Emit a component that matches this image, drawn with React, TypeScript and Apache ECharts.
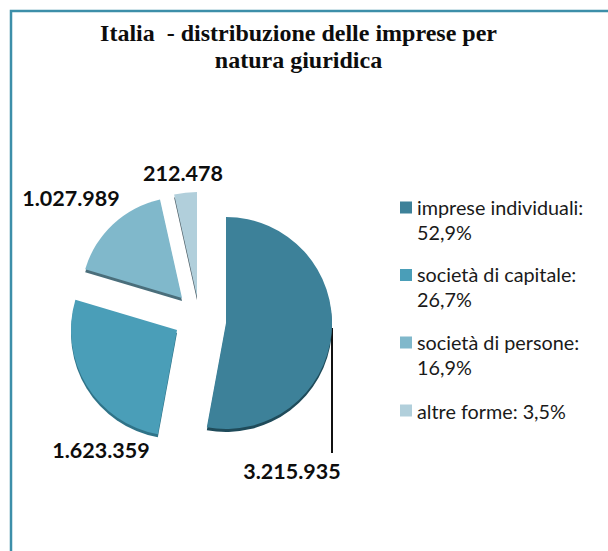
import React, { useEffect, useRef } from "react";
import * as echarts from "echarts";

const titleText = "Italia  - distribuzione delle imprese per\nnatura giuridica";
const categories = ["imprese individuali", "società di capitale", "società di persone", "altre forme"];
const values = [3215935, 1623359, 1027989, 212478];
const shares = ["52,9%", "26,7%", "16,9%", "3,5%"];

const colors = ["#3D8199", "#4A9EB8", "#80B8CB", "#B1CFDB"];
const rimColors = ["#1F4B5A", "#2F7388", "#4A6E7B", "#4A5A62"];
const centers = [[226, 323], [177, 330], [182, 298], [197, 297]];
const radii = [106, 106, 101, 105];
const labelPositions = [[292, 471], [101, 450], [71, 198], [183, 173]];
const RIM = 3;

const fmt = (v: number) => String(v).replace(/\B(?=(\d{3})+$)/g, ".");
const pieData = (active: number, palette: string[]) =>
  categories.map((name, i) => ({
    name,
    value: values[i],
    itemStyle: { color: i === active ? palette[i] : "transparent" },
    label: { show: false },
    labelLine: { show: false },
  }));

const twoLineIcon = "path://M0,6H13V19H0Z M0,0L0.01,0Z M0,50L0.01,50Z";

export default function App() {
  const ref = useRef<HTMLDivElement>(null);
  useEffect(() => {
    document.body.style.margin = "0";
    const chart = echarts.init(ref.current!, null, { renderer: "svg" });
    const series: any[] = [];
    categories.forEach((_, i) => {
      series.push({
        type: "pie",
        silent: true,
        radius: radii[i],
        center: [centers[i][0], centers[i][1] + RIM],
        startAngle: 90,
        clockwise: true,
        label: { show: false },
        labelLine: { show: false },
        data: pieData(i, rimColors),
      });
    });
    categories.forEach((_, i) => {
      const data: any[] = pieData(i, colors);
      data[i] = {
        ...data[i],
        label: {
          show: true,
          position: "outside",
          overflow: "none",
          formatter: fmt(values[i]),
          fontFamily: "Lato",
          fontWeight: "bold",
          fontSize: 21.5,
          color: "#0d0d0d",
        },
      };
      series.push({
        type: "pie",
        silent: true,
        radius: radii[i],
        center: centers[i],
        startAngle: 90,
        clockwise: true,
        labelLine: { show: false },
        labelLayout: {
          x: labelPositions[i][0],
          y: labelPositions[i][1],
          align: "center",
          verticalAlign: "middle",
          hideOverlap: false,
        },
        data,
      });
    });
    const legendText = {
      fontFamily: "Lato",
      fontSize: 19.8,
      color: "#1a1a1a",
      lineHeight: 25,
    };
    chart.setOption({
      animation: false,
      backgroundColor: "#ffffff",
      title: {
        text: titleText,
        left: 293.5,
        top: 14,
        textAlign: "center",
        textStyle: {
          fontFamily: "Liberation Serif",
          fontWeight: "bold",
          fontSize: 24,
          lineHeight: 27,
          color: "#0d0d0d",
        },
      },
      legend: [
        {
          orient: "vertical",
          left: 400,
          top: 194,
          padding: 0,
          itemWidth: 12,
          itemHeight: 50,
          itemGap: 17.5,
          selectedMode: false,
          textStyle: legendText,
          formatter: (name: string) => `${name}:\n${shares[categories.indexOf(name)]}`,
          data: [0, 1, 2].map((i) => ({
            name: categories[i],
            icon: twoLineIcon,
            itemStyle: { color: colors[i] },
          })),
        },
        {
          orient: "vertical",
          left: 400,
          top: 398,
          padding: 0,
          itemWidth: 12,
          itemHeight: 12,
          selectedMode: false,
          textStyle: legendText,
          formatter: (name: string) => `${name}: ${shares[categories.indexOf(name)]}`,
          data: [{ name: categories[3], icon: "rect", itemStyle: { color: colors[3] } }],
        },
      ],
      series,
      graphic: [
        {
          type: "polyline",
          silent: true,
          shape: { points: [[11, 551], [11, 11], [608, 11]] },
          style: { stroke: "#3D8FA9", lineWidth: 2.5, fill: "none" },
        },
        {
          type: "line",
          silent: true,
          shape: { x1: 332, y1: 328, x2: 332, y2: 453 },
          style: { stroke: "#111111", lineWidth: 2 },
        },
      ],
    });
    return () => chart.dispose();
  }, []);
  return <div ref={ref} style={{ position: "fixed", left: 0, top: 0, width: 608, height: 551 }} />;
}
